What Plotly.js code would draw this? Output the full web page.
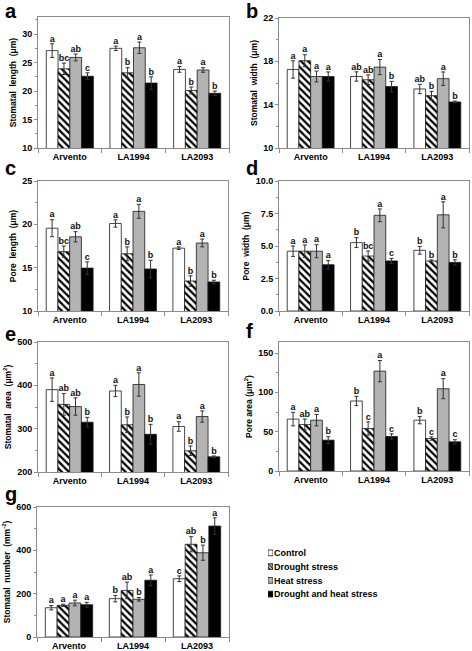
<!DOCTYPE html>
<html>
<head>
<meta charset="utf-8">
<script src="https://cdn.plot.ly/plotly-3.0.1.min.js"></script>
<style>html,body{margin:0;padding:0;background:#fff;}#chart{width:472px;height:651px;}</style>
</head>
<body>
<div id="chart"></div>
<script>
// ---------- DATA ----------
const categories = ['Arvento', 'LA1994', 'LA2093'];
const treatments = ['Control', 'Drought stress', 'Heat stress', 'Drought and heat stress'];

// each array: [Control, Drought, Heat, Drought+Heat], each holding values for [Arvento, LA1994, LA2093]
// (a) Stomatal length
const stomatalLengthMean = [[27.1, 27.5, 23.8], [23.9, 23.2, 20.1], [25.9, 27.6, 23.7], [22.6, 21.4, 19.6]];
const stomatalLengthErr  = [[1.2, 0.4, 0.5], [1.0, 0.9, 0.6], [0.6, 1.0, 0.4], [0.6, 1.1, 0.4]];
const stomatalLengthSig  = [['a', 'a', 'a'], ['bc', 'b', 'b'], ['ab', 'a', 'a'], ['c', 'b', 'b']];
// (b) Stomatal width
const stomatalWidthMean = [[17.25, 16.6, 15.45], [18.06, 16.3, 14.83], [16.6, 17.47, 16.4], [16.6, 15.67, 14.25]];
const stomatalWidthErr  = [[0.8, 0.43, 0.43], [0.55, 0.45, 0.4], [0.5, 0.7, 0.62], [0.42, 0.48, 0.08]];
const stomatalWidthSig  = [['a', 'ab', 'ab'], ['a', 'ab', 'b'], ['a', 'a', 'a'], ['a', 'b', 'b']];
// (c) Pore length
const poreLengthMean = [[19.55, 20.1, 17.25], [16.85, 16.6, 13.46], [18.56, 21.5, 17.85], [14.95, 14.85, 13.35]];
const poreLengthErr  = [[0.98, 0.42, 0.15], [0.64, 0.8, 0.6], [0.59, 0.8, 0.45], [0.72, 1.0, 0.2]];
const poreLengthSig  = [['a', 'a', 'a'], ['bc', 'b', 'b'], ['ab', 'a', 'a'], ['c', 'b', 'b']];
// (d) Pore width
const poreWidthMean = [[4.6, 5.26, 4.67], [4.6, 4.23, 3.85], [4.6, 7.36, 7.4], [3.56, 3.85, 3.74]];
const poreWidthErr  = [[0.4, 0.38, 0.3], [0.48, 0.38, 0.08], [0.5, 0.49, 1.0], [0.32, 0.2, 0.2]];
const poreWidthSig  = [['a', 'b', 'b'], ['a', 'bc', 'b'], ['a', 'a', 'a'], ['a', 'c', 'b']];
// (e) Stomatal area
const stomatalAreaMean = [[390, 387, 305], [356, 309, 249], [351, 402, 328], [315, 287, 235]];
const stomatalAreaErr  = [[27, 13, 11], [25, 18, 11], [20, 27, 13], [11, 23, 2]];
const stomatalAreaSig  = [['a', 'a', 'a'], ['ab', 'b', 'b'], ['ab', 'a', 'a'], ['b', 'b', 'b']];
// (f) Pore area
const poreAreaMean = [[66, 89, 64.6], [59, 54, 41.3], [64.6, 127, 104.6], [39.2, 43.9, 37.1]];
const poreAreaErr  = [[8.6, 5.9, 4.6], [7, 8.4, 2.1], [7.2, 13.5, 12.7], [4.4, 3.4, 2.7]];
const poreAreaSig  = [['a', 'b', 'b'], ['ab', 'c', 'c'], ['a', 'a', 'a'], ['b', 'c', 'c']];
// (g) Stomatal number
const stomatalNumberMean = [[135, 177, 269], [146, 215, 428], [157, 174, 389], [149, 262, 512]];
const stomatalNumberErr  = [[10, 15, 13], [5, 38, 35], [13, 8, 35], [11, 24, 38]];
const stomatalNumberSig  = [['a', 'b', 'c'], ['a', 'ab', 'ab'], ['a', 'b', 'b'], ['a', 'a', 'a']];

const panelLetters = ['a', 'b', 'c', 'd', 'e', 'f', 'g'];
const yTitles = ['Stomatal  length  (μm)', 'Stomatal  width  (μm)', 'Pore  length  (μm)', 'Pore  width  (μm)',
                 'Stomatal  area  (μm<sup>2</sup>)', 'Pore area (μm<sup>2</sup>)', 'Stomatal  number  (mm<sup>-2</sup>)'];

// ---------- STYLE / LAYOUT ----------
const W = 472, H = 651;
const FONT = 'Liberation Sans, Arial, Helvetica, sans-serif';
const panels = [
  {mean: stomatalLengthMean, err: stomatalLengthErr, sig: stomatalLengthSig, range: [10, 33], dtick: 5, fmt: '', x: [38, 229], y: [17, 148]},
  {mean: stomatalWidthMean, err: stomatalWidthErr, sig: stomatalWidthSig, range: [10, 22], dtick: 4, fmt: '', x: [279, 469], y: [18, 148]},
  {mean: poreLengthMean, err: poreLengthErr, sig: poreLengthSig, range: [10, 25], dtick: 5, fmt: '', x: [38, 228], y: [181, 311]},
  {mean: poreWidthMean, err: poreWidthErr, sig: poreWidthSig, range: [0, 10], dtick: 2.5, fmt: '.1f', x: [279, 469], y: [181, 311]},
  {mean: stomatalAreaMean, err: stomatalAreaErr, sig: stomatalAreaSig, range: [200, 500], dtick: 100, fmt: '', x: [38, 228], y: [342, 472]},
  {mean: poreAreaMean, err: poreAreaErr, sig: poreAreaSig, range: [0, 164], dtick: 50, fmt: '', x: [279, 469], y: [342, 471]},
  {mean: stomatalNumberMean, err: stomatalNumberErr, sig: stomatalNumberSig, range: [0, 600], dtick: 200, fmt: '', x: [37, 229], y: [507, 637]}
];
const letterPos = [[3, 19], [244, 19], [3, 176], [244, 176], [3, 342], [244, 339], [3, 502]];

const barColors = ['#ffffff', '#ffffff', '#b3b3b3', '#000000'];
const barPatterns = ['', '\\', '', ''];

const BARGAP = 0.26;
const traces = [];
const layout = {
  width: W, height: H,
  margin: {l: 0, r: 0, t: 0, b: 0},
  paper_bgcolor: '#ffffff', plot_bgcolor: '#ffffff',
  font: {family: FONT, color: '#000', size: 9},
  barmode: 'group', bargap: BARGAP, bargroupgap: 0,
  scattermode: 'group', scattergap: BARGAP,
  showlegend: false,
  annotations: [],
  hovermode: false
};

function patternFor(k, size) {
  return barPatterns[k] ? {shape: barPatterns[k], fgcolor: '#000000', bgcolor: '#ffffff', size: size, solidity: 0.45} : undefined;
}

panels.forEach((p, i) => {
  const n = i + 1;
  const xa = 'x' + (n === 1 ? '' : n), ya = 'y' + (n === 1 ? '' : n);
  const xk = 'xaxis' + (n === 1 ? '' : n), yk = 'yaxis' + (n === 1 ? '' : n);
  treatments.forEach((t, k) => {
    const marker = {color: barColors[k], line: {color: '#1a1a1a', width: 0.8}};
    if (patternFor(k, 5)) marker.pattern = patternFor(k, 5);
    traces.push({
      type: 'bar', x: categories, y: p.mean[k], name: t, xaxis: xa, yaxis: ya,
      legendgroup: t, showlegend: false, offsetgroup: String(k), marker: marker,
      error_y: {type: 'data', array: p.err[k], visible: true, color: '#333333', thickness: 1, width: 2}
    });
  });
  treatments.forEach((t, k) => {
    traces.push({
      type: 'scatter', mode: 'text', x: categories,
      y: p.mean[k].map((v, j) => v + p.err[k][j]),
      text: p.sig[k], textposition: 'top center',
      textfont: {family: FONT, size: 9, weight: 'bold', color: '#111'},
      xaxis: xa, yaxis: ya, showlegend: false, cliponaxis: false, hoverinfo: 'skip',
      offsetgroup: String(k)
    });
  });
  layout[xk] = {
    domain: [p.x[0] / W, p.x[1] / W], anchor: ya, type: 'category',
    showline: true, linecolor: '#8c8c8c', linewidth: 1, mirror: true,
    ticks: 'outside', tickson: 'boundaries', ticklen: 4, tickcolor: '#8c8c8c',
    tickfont: {family: FONT, size: 9, weight: 'bold', color: '#000'},
    showgrid: false, zeroline: false, fixedrange: true
  };
  layout[yk] = {
    domain: [1 - p.y[1] / H, 1 - p.y[0] / H], anchor: xa, range: p.range,
    dtick: p.dtick, tick0: p.range[0], tickformat: p.fmt,
    showline: true, linecolor: '#8c8c8c', linewidth: 1, mirror: true,
    ticks: 'outside', ticklen: 3, tickcolor: '#8c8c8c',
    minor: {dtick: p.dtick / 2, ticks: 'outside', ticklen: 2, tickcolor: '#8c8c8c'},
    tickfont: {family: FONT, size: 9, weight: 'bold', color: '#000'},
    title: {text: yTitles[i], font: {family: FONT, size: 8.5, weight: 'bold', color: '#000'}, standoff: 4},
    showgrid: false, zeroline: false, fixedrange: true
  };
  layout.annotations.push({
    text: panelLetters[i], xref: 'paper', yref: 'paper',
    x: letterPos[i][0] / W, y: 1 - letterPos[i][1] / H, xanchor: 'left', yanchor: 'bottom',
    showarrow: false, font: {family: FONT, size: 20, weight: 'bold', color: '#000'}, yshift: -5
  });
});

// ---------- KEY (small swatch axis with treatment names) ----------
treatments.forEach((t, k) => {
  const marker = {color: barColors[k], line: {color: '#1a1a1a', width: 0.8}};
  if (patternFor(k, 2.5)) marker.pattern = Object.assign(patternFor(k, 2.5), {solidity: 0.5});
  traces.push({
    type: 'bar', orientation: 'h', y: [t], x: [1], name: t,
    xaxis: 'x8', yaxis: 'y8', width: 0.42, offsetgroup: 'key', showlegend: false, hoverinfo: 'skip',
    marker: marker
  });
});
layout.xaxis8 = {domain: [268 / W, 273 / W], anchor: 'y8', range: [0, 1], visible: false, fixedrange: true};
layout.yaxis8 = {
  domain: [1 - 601 / H, 1 - 546 / H], anchor: 'x8', type: 'category', categoryarray: treatments,
  autorange: 'reversed', side: 'right', showline: false, ticks: '', showgrid: false, zeroline: false,
  tickfont: {family: FONT, size: 9, weight: 'bold', color: '#000'}, ticklabelstandoff: 0, fixedrange: true
};

Plotly.newPlot('chart', traces, layout, {staticPlot: true, displayModeBar: false});
</script>
</body>
</html>
